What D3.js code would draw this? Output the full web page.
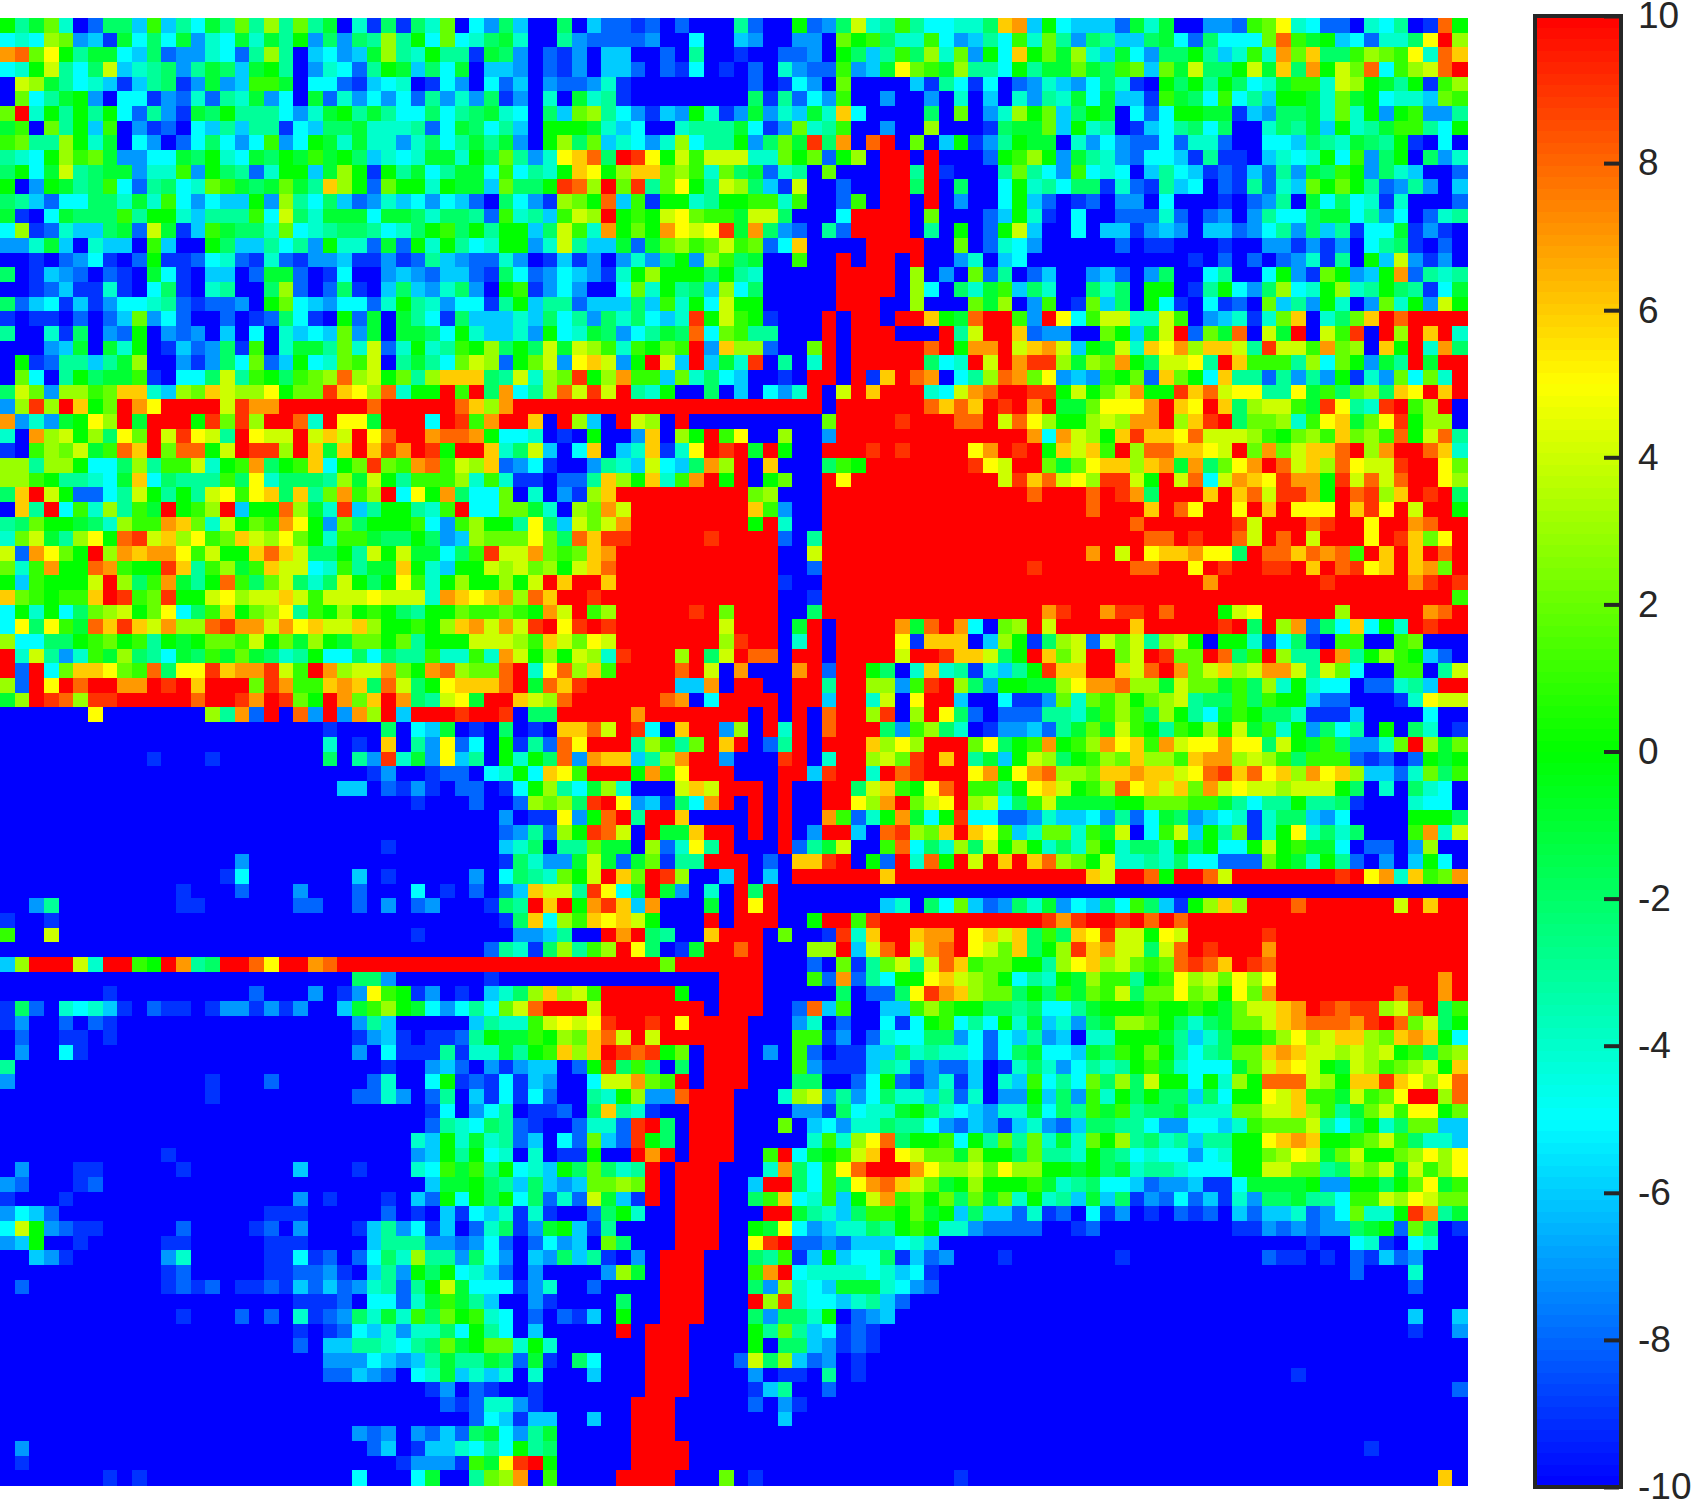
<!DOCTYPE html>
<html>
<head>
<meta charset="utf-8">
<script src="https://cdn.jsdelivr.net/npm/d3@7"></script>
<style>
  html, body { margin: 0; padding: 0; background: #fff; }
  svg { display: block; }
  text { font-family: "Liberation Sans", Arial, sans-serif; }
</style>
</head>
<body>
<div id="chart"></div>
<script>
// Cell levels, one letter per cell: a = -10, b = -9 ... k = 0 ... u = 10.
// A letter followed by a number is a run of that letter.
var levelLetters = 'abcdefghijklmnopqrstu';

var gridRows = [
  'khjmgaciielehfjhmhnhmhjagbibigmaf' + 'dieaaiaeccbcacaaahcaakcdioghlhffgg' + 'iqrekfeeecjgjaaddclmpgfccagfhabsk',
  'fgfnmdebjfifjdgfjgjhkdidihnhkfmfg' + 'ijgaahdccccdaafaaedaaddamkligglfde' + 'hflgmhdiheeijfcifffmsljkefcggipun',
  'rsmpkhjjfeicddgfchnhaefdejnhgkhhb' + 'jidacbdaeeaacahaabaaccdakiehlingmd' + 'kfqkmjngejfdiikheglgrmqiilnmlpgsq',
  'fgkohfioeghidhjiejkhadgfchkjeifja' + 'eedacbdaeecacbfabacagdccldejpmljnh' + 'hfkhjjmjilmemjoiikojqirkomsflnosu',
  'aonjhfgebehibdjdelljaffcbefgabfda' + 'fceadccdgbaaaaaaaacabfdamaaaaebhfb' + 'facdgedfigbakikhkifgjllgonkjhkbln',
  'amfhjkdaffbdcgchgjdfajcgdfdfchdgd' + 'ibdagajghbaaaaaaaaibhcfdlaadaadaga' + 'eagdhgjfjeebljiflfhekkjgmjkfggeml',
  'mugkhkhkfchdbjikhhhfdgjkhjhffifhi' + 'jgfaiemnhfdbedkgbdjdgejgqfaaaaiama' + 'dgnkmeikjafcfkkjjbediijgmgkdklddh',
  'jlamhkeladbcafehehhbfeiijggghcfji' + 'fheakkkjgefaaghhhjfbdmghlaadaanaaa' + 'bijjmekghabefhifiaagihjekghjllhfk',
  'lmhhnkgjafdacfifdfldfkjgjggdgifhj' + 'hjdaknimegfdgnfhhkdimjtirasuamaekb' + 'dhkjjagdfdccfcggcaaffeihgjihkbafa',
  'hgfknlmjddffjikgfjikjljkiegfgjjgk' + 'imhdgpqsiutpkoloooggmkmcknauuauaaa' + 'cklnkdjhgdcffebhbbaegfgkfldikaidg',
  'ikfjohijjdggldkihcgkkejnkbkhjfhjj' + 'flfhgkqpknqqmnlgmijcghamaaauuhubaa' + 'ahmhfdlfgfaehfebcbechdjilkdigeaac',
  'kadkjhilfchifgmljijmjhqnkcmkkgkjj' + 'emiiktsnumthmpkhonieboaacaauuiuaia' + 'afkghfiibgcbhefacbhcgemkmkhcdhdae',
  'ihecffiigjglfdfeekdnhfiecdgefdfec' + 'aifdbnmkselbkkghkkllglaaclauuauada' + 'afkecabcaddafaaabacdhajfifgbgaaac',
  'jbafjiiilhkkgehhhlfoigjjjfjjigiih' + 'clghelonuklkopmlljooiaaafuuuuamaaa' + 'cekgbafaacccgcacdadhffijjfhdfacgh',
  'fnbcgeeijcojbeljiigmfghiihfgiklik' + 'hkkeiolgrkmkrpoptjridcahcuuuuahaka' + 'ckoeaafaeebdedaeecdfhdiehbffjbdba',
  'ddgjeageealeaakieehfhdkggcjckgkhf' + 'gkkdgoheejcjmnlmolmcfqaaaauuuuaama' + 'cgfdaaaaacabbaaabaaddbdbdafhibaca',
  'aabacdfbackbbcfgcbgcbddebbdbchedc' + 'cgdabebdadgdikdnlijaalaauauuauaadg' + 'aefa11bacacacdgbhakeodbda',
  'iabedcacbajfbaeeacjjcabfaadedceec' + 'bifcdfedbgknkkkikhgaaaaauuuuanadam' + 'chaceaadecadiaafhaafkdbmkdekrchgh',
  'aabcebbgbafibaghaaincacibaeiedgid' + 'aklbdfdaafmgkhienfiaaaaauuuuanfaig' + 'jleigaaigiakkabhkfdinfgknghkihbfj',
  'icefbebdffghcbccdakmfedffcgkhgdff' + 'bhkehhceeeielgkfokkaaaaauuuaanaaam' + 'jnadlabmeiakfbafbcamehdkgadmgkdok',
  'babbacacemdfcaacabcifbakcjajhfbie' + 'eegeifhdigifegtkolkbaaauauuauuqkjs' + 'uuldupflooggoladegbgmqagimqusuuuu',
  'haagbiadckadcdaeafagefemdjajjifkg' + 'eegdkfgjidfhjisfmlhhaaauauuuaaauho' + 'uuqcddaamkejoucmjsaojuaoltaunuqug',
  'aaadejajgkabecdiblagjjhmgocgkghlk' + 'nikiojonlglkmludqnncaamuauuuuusukr' + 'ruoqroekjogqprnqqohtoolrmnaqkugri',
  'akbchhehjnaadbdifmcekfgmloahjhfmo' + 'nckmodpqodkuoeuejgtahaguauuuuuifgu' + 'ourttnjnmrkioophuqlllhnfmkdjhujuu',
  'amfahkijjlbaffiohlkilmnsnokmhnqqq' + 'ihognmtknrllemgifeaabauuaubqusrafh' + 'nsrmpdedlkmcqmkfqhhchdhdkbgdmfmgu',
  'iomdnnlmqqgenmqonnpkmmtqpnsgkkuluirfhnsotouhgkaaia' + 'eafdguaouquuugforsuuttkokmorkktqsopphhpjlimniqpuqu',
  'dntnuqkmurpu4otrru6su5sqnru15' + 'u6au6sqsquturujjmpppruqpuqinooljtphgtulnua',
  'rdgdjkpnujuuuktmtnuusguppjuuufutlruuqauneauonauaaa' + 'a6mu4tu3ssuospnkknonrrunqtuimmnglpqjmptknna',
  'garnoknipmuotpohupoouoqoupsuurssrkffgabakaadqankul' + 'paanaadu13rfronkqtqqpsooonlkmnlqmnlskosh',
  'balnmojlsqumsskouttnuqjquqtrutkuuqgioeafqaegqbgput' + 'ujukaauuututuuuuprutukqoqlunssqqpoumrmoqqsunruusqg',
  'nnhnnkffinhllogklriklqfkmtmlrslonqcdfbaadhgeofeirn' + 'uaqaaailku7tpouumjmpqqnqrjrimprusoqnspootuupm',
  'nnlkhhgfjqfihhhlipgiiihnjokhlllnglgbbacchqnkqglruk' + 'uakmaaupu10otqsopnttokuosforqptrrktososuupn',
  'iquokccfhokhkhoplpqiqhmrlnufpkriffmagadbnqu8' + 'umnaaau14suuusutriuuuquqsottrkustnqutui',
  'aqhuflgnhljuklnuekksnjgtehkkhgluffmmjganmrou7' + 'uqldaau18suuuquspuupuqupppuqtpuouuk',
  'himkkjignllrqmgokmlrpkdmikkklfdlnkkhpieomoru7' + 'ukugaau21su6tou3stuupuursuu',
  'gmojhnpkstoqnplmqonpmkglljiikidenmmmpmisqttu5tu' + 'uuucahu22ssutuusousuouuuputqmpu',
  'ocrpmkunrqrrplokkqsqoiikhokojjfiltoormlmqru8' + 'uuuaaou18ruoupqqrppiussqsrsluququsu',
  'mglrkksrlkktqhlnjlqoofglhjjqkgekkonomnkoqsu8' + 'uuuaacu14tu6ssuuputuuttuqustpquqrmu',
  'kelkkkounilrjhkslimoigiokikplgknkknkouquuqu8' + 'uuubaau26ru7tu5rtut',
  'qmlkllqutlmtkkopnooqolooopooogrqpqrnsquutu9' + 'uuuaabu43l',
  'fkgkfimnokmpfilqkmnphlknklkihkkmllmlkroulnu5tum' + 'uuuaaiu15rtuurttusuuukopu5nu5rsu',
  'fpipljsqtqornnstrrorpqooqnkklknqrorotuptutu7o' + 'uuuajuau4rjsurfamnuou5qu5tuiunrcifqfkgutuu',
  'nffiiklmklhkjkmmlokmjnkjmmkmhkkkooonlqompou7n' + 'tuuaguau4pbqqqaenkbinocomohnokakkgbfiballaalmaaa',
  'ugohdgljnihfjiljmjighkffifihhlgglgroknkongtuuunuio' + 'ussauuau4ouutqqoikuqmouumoutmmusilunhhurhknlkeca',
  'ucufmqqpmlsipptqrrtolurnoormkrsnmmsugpsnqlu4suoa' + 'raaarucuukiagqghbgehktqquuqosurmoqnorrohomfaallaho',
  'ncupusuurrutuquuumtrllqrqisoikpqqqsujsqtu6eera' + 'uuaauuhuunndltunidkkjjnprrsnnjommjlingkgffaccgheuu',
  'jnutsnttu5suutrutmkurmqurihopjuuqonsu6srafu' + 'uuuauueuugoapuueaafbbdmgmlnkmnohiililkkeccaaabgpoo',
  'a6pa7nhrcuasdudrnueuuutuutaiiu5ru6' + 'uauauasuuntanupicaccchhgjlnlinkhfjlkiigbbbeaaaafaa',
  'a22baaaiafejabaiabaqqsoutfaquud' + 'nauguasuuuidlnigabddechjmjolkhlknkojlgkdifhakaigab',
  'a22gabaqahdpcfakbhcspuuuhnlhmuq' + 'uachuauuuqnpnuuumpiklrklnrpqlropprppiokjliddgmunjm',
  'a10baaaba7iahdtgjdpehakgkisdrqqehnruud' + 'aaatuaguunomtuquhjekoniklnmqnnlqrrnonlilllcbcackjk',
  'a25bdaabccafgkfqplu3krlpu3' + 'aaauuetuugustuuuprkprsnnmqqrqqopstqspqnrpqneecgmil',
  'a23eeacbdbaccabfknhfjngaaaoqou' + 'uuauaauuioqlkpsullhkpqoklnspqoqmropoonoookiagaigfa',
  'a28baaacaacnmnitupdebifru' + 'auauaauupnrumopunofilojjjjkkmmmlljhfhhkhhibaaagffa',
  'a34dabbpdksuhuuqaaa' + 'auauaarlcgkrjfktffccdgeefdhcfjidefgbgiiedfaaaakkki',
  'a34cdhcnktsoaujjquu' + 'auauaduueastnmquqplegmmgljoafloekhmbgkpgigiaaalrgo',
  'a26ba7egiahhmjjancgphu' + 'aaauchjoaalsfignioknkgigmkgiigkikffkokljjfaccadnaa',
  'a16da17bigddjojcjmbhhuu' + 'uacaqqtuakcugskuouquqsnmkogghgiffcccmkjgkhcadaekfa',
  'a15bfa7eaba5dafihgmkouqmutnaae' + 'uaeau6qu13qouuskuusou7tuprgqlmr',
  'a12ba3ca3da3ca3fabacaceqoohtpfjujdaga' + 'uiua47',
  'aadha8bba6ccaacadacda3bihuqukrtqera3ja' + 'upua7egaifmecdigjdfeifliebknqnuuusu6ouquu',
  'baaba30biqfnlqpqokaaaua' + 'uuuaakuultu11trtuutususu19',
  'laaoa24ba6ddehaauruihaaqu' + 'uuamaabtgquuqrrupqoqiliqptookpou5tu13',
  'a33chgbinhlnupiabjuu' + 'suaaannueosuorsupomqikntqrooiosutuuuru13',
  'enuuuoguulkurhiuuspuursu22mu4' + 'uuaaacambhmohosqlmmkkhnpqnomlmstsqutsu13',
  'a24iida6ba15u' + 'uuaaalcrchfkkpqonmkfhgkjnllhklpnompnpu11ru',
  'a7ba9ca3dabdplkbdabaeginqnolu5kaau' + 'uua5iacciptrqnmmikiljmloimmpmnkpmru8suuru',
  'bicagfgebacbbabddbdbdaaejlnkjfdfhfmosu3ou7au' + 'uuaacselaaeelnlkkiihiffhjkkklkklkjmooqrutsttnosuil',
  'bdaacacba16dhea5ehgglopoptuutupu3' + 'uaaadgacaafbfklfhfkgjegdijnnmkigijmmoqrsssrtusmoik',
  'acaabbaba16bdebabbchkjjlknmqsouou5' + 'uaaallbdacgffiidfcfehdeaggkkkjhegikklnpnoqqnmqrqkf',
  'adaafba18dafbbbhbggjhklqnqutstkmauu' + 'uadalcabbeeighggfcfijffejilkmkhfhimmqrqoononoklimn',
  'ha25baadecadbdeeacktiliaiauu' + 'uaaaldbbbehgcdcceabgigdfhghkljgfffjmoqpokjonlmnokq',
  'da13ba3ca6cgaafkbcbfbedaafoormluauu' + 'uaaaiiaacfkcbdgbeagelfhfminiokkfkgnksssonkqqtqpnps',
  'a14ba9ccgdachaebfbfcaahgknddsu3' + 'aaagnodhdfiggehcgaddkeidlgkikiieifkkpoqlljolmpuuns',
  'a29bfadfhabbcaiqhgbaau3' + 'aaaaddbifggjkigfedggjfihljlhiijgggmmooqnlhjmolppkm',
  'a29chgfihcbaacggctuiau3' + 'aaamaefdggihhfdcedbegdceiihhfddffeglmmmohfikgimmee',
  'a28gekgjghceafcmectkiau3' + 'aaaaaglgnpsikklfkhmhmgjgmknhighehhkkpqrqkklmoligge',
  'a11ba16dekhkfgagabbkaauruau3' + 'aalufjkloqupommjnkkimhhgkihfgffdfgkkmnpojmokkmnpnp',
  'adaaabba5ba7eaaabaaagfljlhkfgekimighuau3a' + 'aagriflpsuuurpnnompnnkkjkijghhgfffkkoommhinmojolnp',
  'dcaaabca22ejjkiheiedemmnmuau3a' + 'aeuuifliprsqomjknkkkljghiffecddebbfjjjjkddkkikmpjl',
  'baaaba15dabaaabaeckfkikficgcojebuau3a' + 'ailqfglekorlmkmimjmgkghejeibdcfcebgdiijhhfllonpomm',
  'dfeca14bbba5cabaebfegbgbaacikgaau3a' + 'aauujhgeillkmjkeieecgbcafbdabacbcaeceegcdfmggktrhj',
  'fokdcbba5ca4bcada3behdfbeacgibdjkebha4u3a' + 'akjpfdeggihklkggdccccaabca9bbdcdcddijkcmiab',
  'dekaaba5bba5bbba4ehhhddcdfcacfdeamiaaau3a' + 'aptuccdceeefgea25baafgbafgaa',
  'aaedba6dga5bbfbcacfignhhdifdaediehbadau3aa' + 'aihlbekeffibecdaaaba7ba9cbbabacbecdaaa',
  'a11bca5bbccdbaehdkikfgecada4dnjau3aa' + 'alrufggggfgefba28caaagaaa',
  'aca9bcbcabbcbececdghchkojfffbdgaaca4u3aa' + 'aidngfejjjgfdca32caaa',
  'a20bbbcaffcgjljheaadba4iaau3aa' + 'auntgffegheca38',
  'a12ba3cacagbcdigjglimklgfacacbeakaau3aa' + 'aidiigkacdea35eaae',
  'a20babcfegdggifkhfaea5uau3a3' + 'akhmhefbcba36baad',
  'a20caeehhgfhimjkmmgkga6u3a3' + 'akaiiedbcba40',
  'a22dddfedehjhhjicjbaifa3u3a3' + 'coinecdaba41',
  'a22ccedcafgjegegaga3ea3u3a3' + 'adabbahaba29ba11',
  'a29bdacbaaba7u3a3' + 'abehaaca42c',
  'a30cbcggdba6u3a4' + 'acadba45',
  'a32cfebeeaaeaau3a4' + 'aaaea46',
  'a24dcdadcecijfdhja5u3a4' + 'a50',
  'ada23ceabeegfhfkhia5u4a3' + 'a43ba6',
  'aba25bdddbljptuka5u4a3' + 'a50',
  'a7baba14fa3fjaahmnrala4u4a3m' + 'aba13ba32qa'
];

var colorStops = [-10, -5, 0, 5, 10];
var colorNames = ['#0000ff', '#00ffff', '#00ff00', '#ffff00', '#ff0000'];
var barTicks   = [-10, -8, -6, -4, -2, 0, 2, 4, 6, 8, 10];

// ── Pure data functions ────────────────────────────────────────────────────

function decodeRow(row) {
  return row.replace(/([a-u])(\d+)/g, function(m, letter, count) {
    return letter.repeat(+count);
  }).split('').map(function(ch) {
    return levelLetters.indexOf(ch) - 10;
  });
}

function buildCells(rows) {
  var cells = [];
  rows.forEach(function(row, r) {
    decodeRow(row).forEach(function(v, c) {
      cells.push({ row: r, col: c, value: v });
    });
  });
  return cells;
}

// ── D3 rendering ──────────────────────────────────────────────────────────

function drawChart() {
  var width = 1691, height = 1499;
  var ink = '#262626';

  var svg = d3.select('#chart').append('svg')
    .attr('width', width)
    .attr('height', height);

  var color = d3.scaleLinear().domain(colorStops).range(colorNames).clamp(true);

  var x = d3.scaleBand().domain(d3.range(100)).range([0, 1467]);
  var y = d3.scaleBand().domain(d3.range(100)).range([18, 1485]);

  svg.append('g')
    .attr('shape-rendering', 'crispEdges')
    .selectAll('rect')
    .data(buildCells(gridRows))
    .join('rect')
    .attr('x', function(d) { return x(d.col); })
    .attr('y', function(d) { return y(d.row); })
    .attr('width', x.bandwidth() + 0.5)
    .attr('height', y.bandwidth() + 0.5)
    .attr('fill', function(d) { return color(d.value); });

  // Colorbar
  var barY = d3.scaleLinear().domain([-10, 10]).range([1487, 16]);
  var bands = 128;
  var step = 20 / bands;

  svg.append('g')
    .attr('shape-rendering', 'crispEdges')
    .selectAll('rect')
    .data(d3.range(bands))
    .join('rect')
    .attr('x', 1535)
    .attr('width', 86)
    .attr('y', function(i) { return barY(-10 + (i + 1) * step); })
    .attr('height', function(i) { return barY(-10 + i * step) - barY(-10 + (i + 1) * step) + 0.5; })
    .attr('fill', function(i) { return color(-10 + (i + 0.5) * step); });

  var axis = d3.axisRight(barY)
    .tickValues(barTicks)
    .tickFormat(function(d) { return String(d); })
    .tickSize(-15)
    .tickPadding(19);

  var axisG = svg.append('g')
    .attr('transform', 'translate(1619,0)')
    .call(axis);

  axisG.select('.domain').remove();
  axisG.selectAll('line').attr('stroke', ink).attr('stroke-width', 4);
  axisG.selectAll('text')
    .attr('fill', ink)
    .style('font-size', '37px');

  svg.append('rect')
    .attr('x', 1535)
    .attr('y', 16)
    .attr('width', 86)
    .attr('height', 1471)
    .attr('fill', 'none')
    .attr('stroke', ink)
    .attr('stroke-width', 4);
}

drawChart();
</script>
</body>
</html>
